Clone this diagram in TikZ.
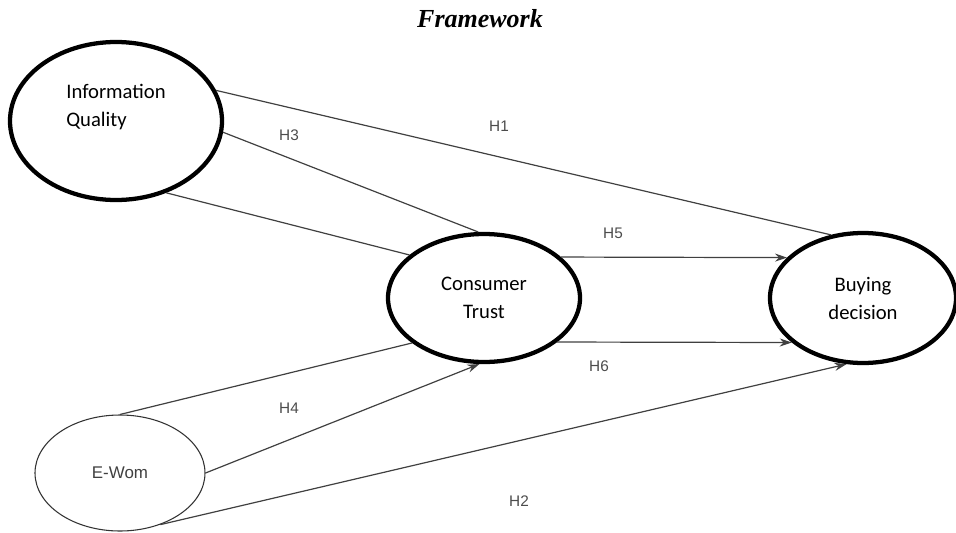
\documentclass[tikz,border=0pt]{standalone}
\usepackage{fontspec}
\setmainfont{Liberation Serif}
\newfontfamily\calfont{Carlito}
\newfontfamily\arfont{Liberation Sans}
\usetikzlibrary{shapes.geometric,arrows.meta}

\begin{document}
\begin{tikzpicture}[x=0.75pt,y=-0.75pt,
        construct/.style={ellipse,draw,line width=3.2pt,fill=white,inner sep=0pt,
          align=center,font=\calfont\fontsize{15.5}{21}\selectfont},
        hyp/.style={draw=black!75,line width=0.9pt},
        hyparrow/.style={hyp,-{Stealth[length=9pt,width=6pt]}},
        hlabel/.style={font=\arfont\fontsize{11.5}{13}\selectfont,text=black!70}]
        \useasboundingbox (0,0) rectangle (956,532);
        \node[font=\bfseries\itshape\fontsize{19.5}{22}\selectfont] (title) at (480,19) {Framework};
        \node[construct,minimum width=159pt,minimum height=118.5pt] (iq) at (116,121) {};
        \node[align=left,font=\calfont\fontsize{15.5}{21}\selectfont] (iqtext) at (116,107) {Information\\Quality};
        \node[construct,minimum width=144pt,minimum height=96pt] (ct) at (484,298) {Consumer\\Trust};
        \node[construct,minimum width=139.5pt,minimum height=97.5pt] (bd) at (863,298) {Buying\\decision};
        \node[ellipse,draw=black!80,line width=0.8pt,minimum width=127.5pt,minimum height=87pt,
          font=\arfont\fontsize{12.7}{14}\selectfont,text=black!75] (ewom) at (120,473) {E-Wom};
        \draw[hyp] (iq.17.7) -- (bd.117.6);
        \draw[hyp] (iq.-6.5) -- (ct.95);
        \draw[hyp] (iq.-55.6) -- (ct.150);
        \draw[hyp] (ewom.90) -- (ct.212);
        \draw[hyparrow] (ewom.0) -- (ct.-94);
        \draw[hyparrow] (ewom.-52) -- (bd.256);
        \draw[hyparrow] (ct.28) -- (bd.152);
        \draw[hyparrow] (ct.-31) -- (bd.212);
        \node[hlabel] (h1) at (499,126) {H1};
        \node[hlabel] (h3) at (289,135) {H3};
        \node[hlabel] (h5) at (613,233) {H5};
        \node[hlabel] (h6) at (599,366) {H6};
        \node[hlabel] (h4) at (289,408) {H4};
        \node[hlabel] (h2) at (519,501) {H2};
\end{tikzpicture}
\end{document}
